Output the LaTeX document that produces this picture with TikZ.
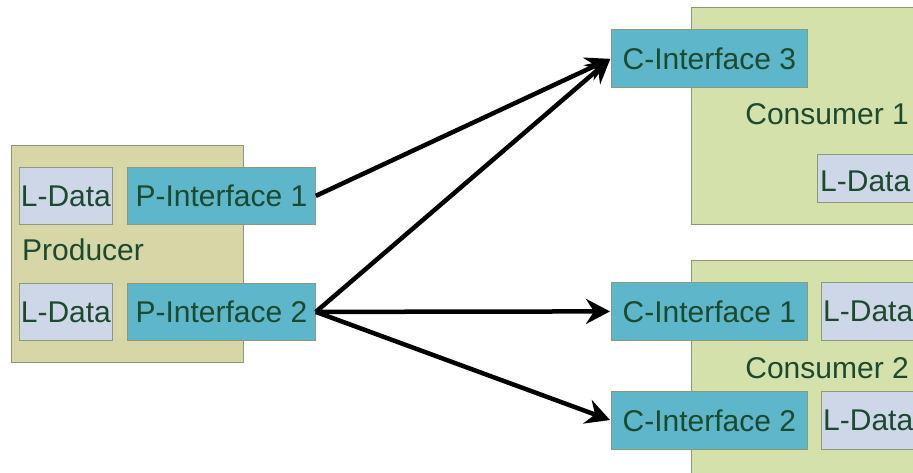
\documentclass[tikz,border=0pt]{standalone}
\usepackage{fontspec}
\setmainfont{Liberation Sans}
\usetikzlibrary{arrows.meta}
\definecolor{prodfill}{HTML}{D6D6A6}
\definecolor{consfill}{HTML}{D4E1AB}
\definecolor{ifill}{HTML}{5DB6C9}
\definecolor{dfill}{HTML}{CED7E7}
\definecolor{txt}{HTML}{1C4A2E}
\definecolor{edge}{HTML}{8C9A78}
\tikzset{
  box/.style={draw=edge, line width=0.8pt, inner sep=0pt, anchor=north west},
  lbl/.style={text=txt, font=\fontsize{30}{30}\selectfont, inner sep=0pt},
  iface/.style={box, fill=ifill, minimum width=188pt, minimum height=57pt},
  ldata/.style={box, fill=dfill, minimum height=57pt},
  conn/.style={line width=4.5pt, -{Stealth[length=24pt,width=25pt,inset=8pt]}, shorten >=1pt}
}
\begin{document}
\begin{tikzpicture}[x=1pt,y=-1pt]
\useasboundingbox (0,0) rectangle (913,473);
\clip (0,0) rectangle (913,473);
\fill[white] (0,0) rectangle (913,473);

% producer
\node[box, fill=prodfill, minimum width=232pt, minimum height=217pt] (prod) at (11,145) {};
\node[ldata, minimum width=93pt] (pd1) at (19,167) {};
\node[lbl] at (pd1.center) {L-Data};
\node[ldata, minimum width=93pt] (pd2) at (19,283) {};
\node[lbl] at (pd2.center) {L-Data};
\node[iface] (pi1) at (127,167) {};
\node[lbl] at (pi1.center) {P-Interface 1};
\node[iface] (pi2) at (127,283) {};
\node[lbl] at (pi2.center) {P-Interface 2};
\node[lbl, anchor=base west] (prodlbl) at (22,261) {Producer};

% consumer 1
\node[box, fill=consfill, minimum width=260pt, minimum height=217pt] (cons1) at (691,7) {};
\node[iface, minimum width=196pt, minimum height=58pt] (ci3) at (611,29) {};
\node[lbl] at (ci3.center) {C-Interface 3};
\node[lbl, anchor=base east] (c1lbl) at (909,125) {Consumer 1};
\node[ldata, minimum width=120pt, minimum height=48pt] (cd1) at (817,154) {};
\node[lbl, anchor=base west] at (820,192) {L-Data};

% consumer 2
\node[box, fill=consfill, minimum width=260pt, minimum height=240pt] (cons2) at (691,260) {};
\node[iface, minimum width=196pt, minimum height=58pt] (ci1) at (611,282) {};
\node[lbl] at (ci1.center) {C-Interface 1};
\node[ldata, minimum width=120pt, minimum height=58pt] (cd2) at (821,282) {};
\node[lbl, anchor=base west] at (823,321) {L-Data};
\node[lbl, anchor=base east] (c2lbl) at (909,378) {Consumer 2};
\node[iface, minimum width=196pt, minimum height=58pt] (ci2) at (611,391) {};
\node[lbl] at (ci2.center) {C-Interface 2};
\node[ldata, minimum width=120pt, minimum height=58pt] (cd3) at (821,391) {};
\node[lbl, anchor=base west] at (823,430) {L-Data};

% connections
\draw[conn] (pi1.east) -- (ci3.west);
\draw[conn] (pi2.east) -- (ci3.west);
\draw[conn] (pi2.east) -- (ci1.west);
\draw[conn] (pi2.east) -- (ci2.west);
\end{tikzpicture}
\end{document}
